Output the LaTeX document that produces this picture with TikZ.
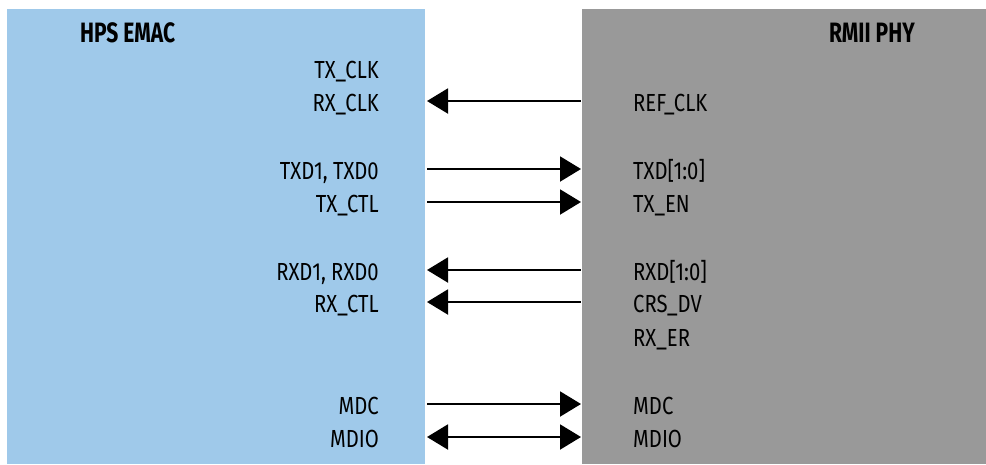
\documentclass[tikz,border=0pt]{standalone}
\usepackage{fontspec}
\setmainfont{Fira Sans}[FakeStretch=0.82]
\newfontfamily\titlefont{Fira Sans}[FakeStretch=0.75]
\usepackage{tikz}
\usetikzlibrary{arrows.meta,calc}
\definecolor{emacblue}{HTML}{9FC9EA}
\definecolor{phygray}{HTML}{999999}
\tikzset{
   sig/.style={line width=2pt, arrows={-Triangle[length=21pt,width=25pt]}},
   sigl/.style={line width=2pt, arrows={Triangle[length=21pt,width=25pt]-}},
   sigb/.style={line width=2pt, arrows={Triangle[length=21pt,width=25pt]-Triangle[length=21pt,width=25pt]}},
   nosig/.style={draw=none},
   pin/.style={inner sep=0pt, font=\fontsize{24.7}{30}\selectfont},
   title/.style={inner sep=0pt, font=\titlefont\bfseries\fontsize{28}{34}\selectfont}
}

\begin{document}
\begin{tikzpicture}[x=1pt,y=-1pt]
\useasboundingbox (0,0) rectangle (986,464);
% the two blocks
\fill[emacblue] (7,9) rectangle (425,464);
\fill[phygray] (582,9) rectangle (986,464);
\node[title, anchor=base west] (emactitle) at (80,42) {HPS EMAC};
\node[title, anchor=base east] (phytitle) at (915,42) {RMII PHY};

% pins: y / emac side / phy side / direction
\foreach \y/\l/\r/\d [count=\i] in {
   68/TX\_CLK//nosig,
   101/RX\_CLK/REF\_CLK/sigl,
   169/{TXD1, TXD0}/TXD[1:0]/sig,
   202/TX\_CTL/TX\_EN/sig,
   270/{RXD1, RXD0}/RXD[1:0]/sigl,
   302/RX\_CTL/CRS\_DV/sigl,
   336//RX\_ER/nosig,
   404/MDC/MDC/sig,
   437/MDIO/MDIO/sigb}
{
   \coordinate (a\i) at (427,\y);
   \coordinate (b\i) at (581,\y);
   \node[pin, anchor=base east] (l\i) at (379,\y+10.5) {\l};
   \node[pin, anchor=base west] (r\i) at (633,\y+10.5) {\r};
   \draw[\d] (a\i) -- (b\i);
}
\end{tikzpicture}
\end{document}
